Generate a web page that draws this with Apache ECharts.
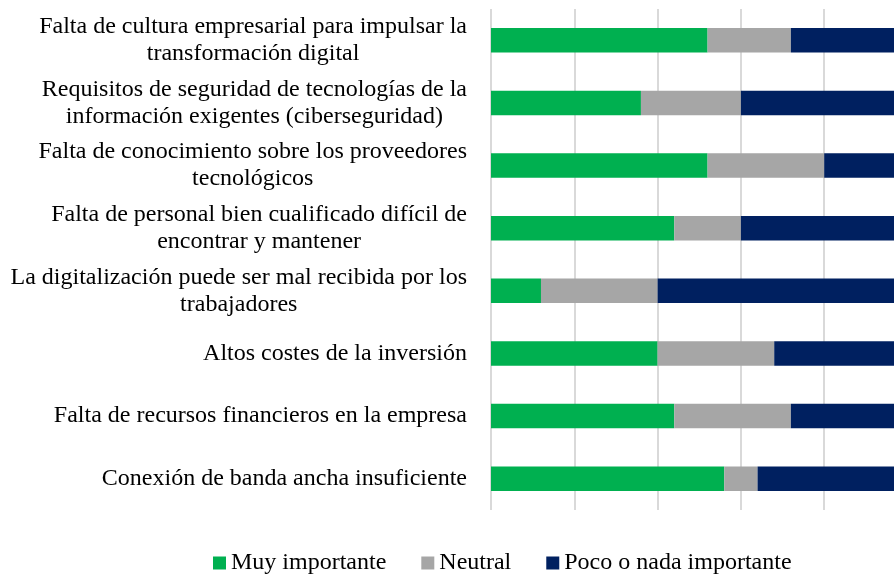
<!DOCTYPE html>
<html>
<head>
<meta charset="utf-8">
<script src="https://cdn.jsdelivr.net/npm/echarts@6/dist/echarts.min.js"></script>
<style>
  html, body { margin: 0; padding: 0; background: #fff; }
  #chart { width: 894px; height: 575px; }
</style>
</head>
<body>
<div id="chart"></div>
<script>
// barreras a la digitalización (% de respuestas)
var categories = [
    "Falta de cultura empresarial para impulsar la\ntransformación digital",
    "Requisitos de seguridad de tecnologías de la\ninformación exigentes (ciberseguridad)",
    "Falta de conocimiento sobre los proveedores\ntecnológicos",
    "Falta de personal bien cualificado difícil de\nencontrar y mantener",
    "La digitalización puede ser mal recibida por los\ntrabajadores",
    "Altos costes de la inversión",
    "Falta de recursos financieros en la empresa",
    "Conexión de banda ancha insuficiente"
];
var muyImportante = [52, 36, 52, 44, 12, 40, 44, 56];
var neutral = [20, 24, 28, 16, 28, 28, 28, 8];
var pocoONada = [28, 40, 20, 40, 60, 32, 28, 36];

var seriesNames = ["Muy importante", "Neutral", "Poco o nada importante"];
var colors = ["#00B050", "#A6A6A6", "#002060"];

var font = "'Liberation Serif', 'Times New Roman', serif";

var dom = document.getElementById("chart");
var myChart = echarts.init(dom);

function barSeries(name, data) {
    return {
        name: name,
        type: "bar",
        stack: "total",
        barWidth: 24.5,
        data: data
    };
}

var option = {
    animation: false,
    color: colors,
    grid: {
        left: 491,
        top: 9,
        right: -13.5,
        height: 501,
        outerBoundsMode: "none"
    },
    legend: {
        left: 208,
        top: 546,
        itemWidth: 13,
        itemHeight: 13,
        itemGap: 35,
        icon: "rect",
        textStyle: {
            fontFamily: font,
            fontSize: 24,
            color: "#000"
        },
        data: seriesNames
    },
    xAxis: {
        type: "value",
        min: 0,
        max: 100,
        interval: 20,
        axisLabel: { show: false },
        axisLine: { show: false },
        axisTick: { show: false },
        splitLine: {
            show: true,
            lineStyle: { color: "#d9d9d9", width: 2 }
        }
    },
    yAxis: {
        type: "category",
        inverse: true,
        data: categories,
        axisLine: { show: false },
        axisTick: { show: false },
        axisLabel: {
            margin: 24,
            align: "right",
            formatter: function (value) {
                // cada línea centrada dentro del bloque, como en Excel
                return value.split("\n").map(function (s) {
                    return "{c|" + s + "}";
                }).join("\n");
            },
            rich: {
                c: {
                    align: "center",
                    fontFamily: font,
                    fontSize: 24,
                    lineHeight: 27,
                    color: "#000"
                }
            }
        }
    },
    series: [
        barSeries(seriesNames[0], muyImportante),
        barSeries(seriesNames[1], neutral),
        barSeries(seriesNames[2], pocoONada)
    ]
};

if (option && typeof option === "object") {
    myChart.setOption(option, true);
}
window.addEventListener("resize", function () {
    myChart.resize();
});
</script>
</body>
</html>
